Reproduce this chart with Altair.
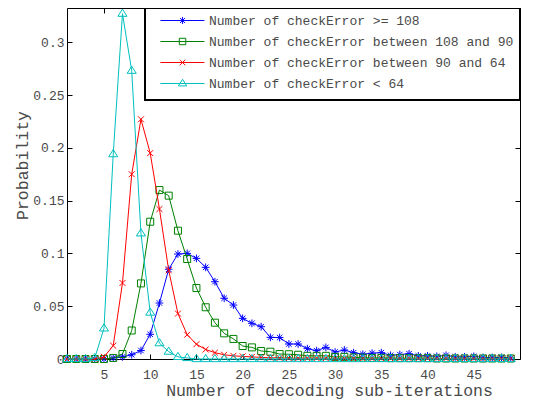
import altair as alt
import pandas as pd

# ---------------- data ----------------
iterations = list(range(1, 50))

p_ge108 = [0, 0, 0, 0, 0, 0.001, 0.002, 0.004, 0.008, 0.0234,
           0.053, 0.085, 0.0994, 0.100, 0.0953, 0.0868, 0.0732, 0.0575, 0.0511, 0.0385,
           0.0338, 0.0306, 0.0205, 0.0203, 0.0142, 0.0142, 0.0098, 0.0079, 0.011, 0.0066,
           0.0085, 0.006, 0.0045, 0.0055, 0.006, 0.0035, 0.0042, 0.005, 0.003, 0.003,
           0.0025, 0.0035, 0.002, 0.002, 0.0025, 0.0015, 0.0015, 0.0015, 0.001]

p_108_90 = [0, 0, 0, 0, 0, 0.001, 0.0047, 0.027, 0.0716, 0.130,
            0.160, 0.1547, 0.1215, 0.0947, 0.0672, 0.049, 0.0344, 0.0243, 0.019, 0.0123,
            0.011, 0.0076, 0.0069, 0.0047, 0.0045, 0.004, 0.003, 0.003, 0.003, 0.002,
            0.002, 0.0015, 0.0012, 0.001, 0.001, 0.0008, 0.0008, 0.0008, 0.0008, 0.0008,
            0.0005, 0.0005, 0.0005, 0.0005, 0.0005, 0.0005, 0.0005, 0.0005, 0.0005]

p_90_64 = [0, 0, 0, 0, 0.002, 0.0126, 0.072, 0.175, 0.227, 0.195,
           0.142, 0.084, 0.043, 0.023, 0.014, 0.009, 0.006, 0.004, 0.003, 0.0025,
           0.002, 0.0015, 0.0012, 0.001, 0.0008, 0.0008, 0.0008, 0.0008, 0.0008, 0.0005,
           0.0005, 0.0005, 0.0005, 0.0005, 0.0005, 0.0005, 0.0005, 0.0005, 0.0005, 0.0005,
           0.0005, 0.0005, 0.0005, 0.0005, 0.0005, 0.0005, 0.0005, 0.0005, 0.0005]

p_lt64 = [0, 0, 0, 0.001, 0.029, 0.194, 0.327, 0.273, 0.119, 0.044,
          0.015, 0.007, 0.002, 0.001, 0, 0, 0, 0, 0, 0,
          0, 0, 0, 0, 0, 0, 0, 0, 0, 0,
          0, 0, 0, 0, 0, 0, 0, 0, 0, 0,
          0, 0, 0, 0, 0, 0, 0, 0, 0]

series_names = [
    "Number of checkError >= 108",
    "Number of checkError between 108 and 90",
    "Number of checkError between 90 and 64",
    "Number of checkError < 64",
]
series_values = [p_ge108, p_108_90, p_90_64, p_lt64]
series_colors = ["#0000FF", "#008000", "#FF0000", "#00BFBF"]

x_tick_values = [5, 10, 15, 20, 25, 30, 35, 40, 45]
y_tick_values = [0, 0.05, 0.1, 0.15, 0.2, 0.25, 0.3]

# ---------------- marker shapes (unit coordinates) ----------------
marker_polys = [
    # asterisk
    [([(-1.1, 0), (1.1, 0)], False), ([(0, -1.1), (0, 1.1)], False),
     ([(-0.78, -0.78), (0.78, 0.78)], False), ([(-0.78, 0.78), (0.78, -0.78)], False)],
    # square
    [([(-1, -1), (1, -1), (1, 1), (-1, 1)], True)],
    # x-mark
    [([(-0.85, -0.85), (0.85, 0.85)], False), ([(-0.85, 0.85), (0.85, -0.85)], False)],
    # triangle up
    [([(0, -1.3), (1.3, 0.75), (-1.3, 0.75)], True)],
]


def poly_path(polys, dx=0.0, k=1.0):
    out = []
    for pts, closed in polys:
        s = "M%.3f,%.3f" % (pts[0][0] * k + dx, pts[0][1] * k)
        for px, py in pts[1:]:
            s += "L%.3f,%.3f" % (px * k + dx, py * k)
        if closed:
            s += "Z"
        out.append(s)
    return "".join(out)


marker_paths = [poly_path(p) for p in marker_polys]
legend_paths = ["M0.9,-2.34M0.9,2.34M0.83,0L13.41,0" + poly_path(p, 7.16, 0.92) for p in marker_polys]

rows = []
for name, vals in zip(series_names, series_values):
    for n, v in zip(iterations, vals):
        rows.append({"n": n, "p": v, "series": name})
df = pd.DataFrame(rows)

FONT = "Liberation Mono"
TXT = "#4a4a4a"

xscale = alt.Scale(domain=[1, 50], nice=False, zero=False)
yscale = alt.Scale(domain=[0, 0.3324], nice=False, zero=False)

x_label_axis = alt.Axis(values=x_tick_values, ticks=False, tickSize=0, domain=False, grid=False,
                        labelFont=FONT, labelFontSize=13, labelColor=TXT, labelPadding=19,
                        labelBaseline="alphabetic", labelFlush=False,
                        title="Number of decoding sub-iterations", titleFont=FONT, titleFontSize=16.5,
                        titleFontWeight="normal", titleColor=TXT, titleX=262, titleY=36,
                        titleAlign="center", titleBaseline="alphabetic")
y_label_axis = alt.Axis(values=y_tick_values, ticks=False, tickSize=0, domain=False, grid=False,
                        format=".2~f", labelFont=FONT, labelFontSize=13, labelColor=TXT,
                        labelPadding=3, labelFlush=False,
                        title="Probability", titleFont=FONT, titleFontSize=16.5,
                        titleFontWeight="normal", titleColor=TXT, titleAngle=270,
                        titleX=-39.5, titleY=157, titleAlign="center", titleBaseline="alphabetic")


def tick_axis(orient, values):
    return alt.Axis(orient=orient, values=values, offset=-5, tickSize=5, tickColor="black",
                    tickWidth=1, labels=False, domain=False, grid=False)


def make_legend():
    return alt.Legend(title=None, orient="none", legendX=78, legendY=0, padding=6,
                      strokeColor="black", fillColor="white",
                      labelFont=FONT, labelFontSize=13, labelColor=TXT, labelOffset=45,
                      labelLimit=500, rowPadding=0, symbolSize=49, symbolStrokeWidth=1)


layers = []
for i, name in enumerate(series_names):
    sub = alt.Chart(df).transform_filter(alt.datum.series == name)
    if i == 0:
        xa, ya = x_label_axis, y_label_axis
    else:
        xa, ya = None, None
    line = sub.mark_line(strokeWidth=1, color=series_colors[i]).encode(
        x=alt.X("n:Q", scale=xscale, axis=xa, title="Number of decoding sub-iterations" if i == 0 else None),
        y=alt.Y("p:Q", scale=yscale, axis=ya, title="Probability" if i == 0 else None),
    )
    pts = sub.mark_point(shape=marker_paths[i], filled=False, size=49, strokeWidth=1,
                         color=series_colors[i], opacity=1).encode(
        x=alt.X("n:Q", scale=xscale, axis=None),
        y=alt.Y("p:Q", scale=yscale, axis=None),
    )
    layers += [line, pts]

legend_layer = alt.Chart(df).transform_filter("false").mark_point(
    filled=False, size=49, strokeWidth=1, opacity=1).encode(
    x=alt.X("n:Q", scale=xscale, axis=tick_axis("bottom", x_tick_values), title=None),
    y=alt.Y("p:Q", scale=yscale, axis=tick_axis("left", y_tick_values), title=None),
    color=alt.Color("series:N", scale=alt.Scale(domain=series_names, range=series_colors),
                    legend=make_legend()),
    shape=alt.Shape("series:N", scale=alt.Scale(domain=series_names, range=legend_paths),
                    legend=make_legend()),
)

tick_layer2 = alt.Chart(df).transform_filter("false").mark_point(opacity=1).encode(
    x=alt.X("n:Q", scale=xscale, axis=tick_axis("top", x_tick_values), title=None),
    y=alt.Y("p:Q", scale=yscale, axis=tick_axis("right", y_tick_values), title=None),
)

chart = alt.layer(*layers, legend_layer, tick_layer2).resolve_axis(
    x="independent", y="independent"
).properties(
    width=453, height=351,
    autosize=alt.AutoSizeParams(type="none"),
    padding={"left": 59, "top": 0, "right": 12, "bottom": 41},
    background="white",
).configure_view(
    stroke="black", strokeWidth=1
).configure_legend(
    strokeWidth=2
)

chart.save("out.html", embed_options={"renderer": "svg", "actions": False})
